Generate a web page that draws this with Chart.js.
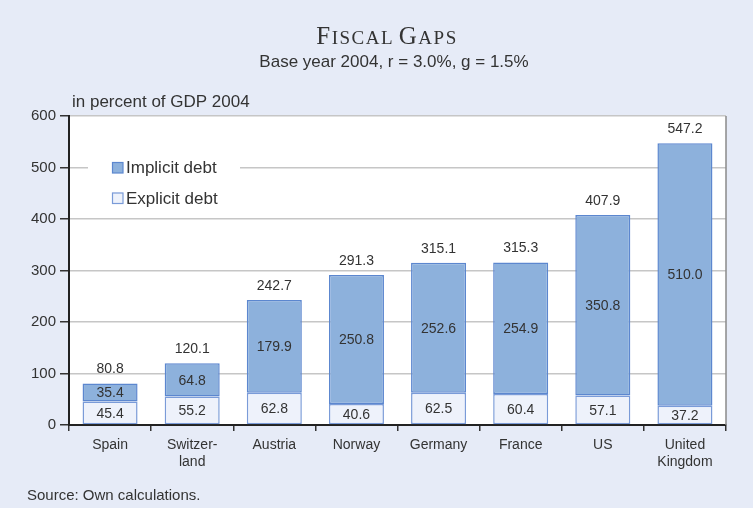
<!DOCTYPE html>
<html lang="en">
<head>
<meta charset="UTF-8">
<script src="https://cdn.jsdelivr.net/npm/chart.js"></script>
<title>Fiscal Gaps</title>
<style>
  html, body { margin: 0; padding: 0; background: #e6ebf7; }
  #wrap { width: 753px; height: 508px; position: relative; }
</style>
</head>
<body>
<div id="wrap"><canvas id="grafico" width="753" height="508"></canvas></div>
<script>
const paises = ["Spain", ["Switzer-", "land"], "Austria", "Norway", "Germany", "France", "US", ["United", "Kingdom"]]
const explicita = [45.4, 55.2, 62.8, 40.6, 62.5, 60.4, 57.1, 37.2]
const implicita = [35.4, 64.8, 179.9, 250.8, 252.6, 254.9, 350.8, 510.0]
const totais = [80.8, 120.1, 242.7, 291.3, 315.1, 315.3, 407.9, 547.2]
const yTicks = [0, 100, 200, 300, 400, 500, 600]

const corTexto = '#333333'
const fonte = '"Liberation Sans", Arial, sans-serif'

// titulo, rotulos e legenda desenhados a mao
const extras = {
  id: 'extras',
  beforeDraw(chart) {
    const c = chart.ctx
    c.save()
    c.fillStyle = '#e6ebf7'
    c.fillRect(0, 0, chart.width, chart.height)
    const a = chart.chartArea
    c.fillStyle = '#ffffff'
    c.fillRect(a.left, a.top, a.right - a.left, a.bottom - a.top)
    // titulo em versalete
    const partes = [['F', 25], ['ISCAL ', 19], ['G', 25], ['APS', 19]]
    let w = 0
    partes.forEach(p => { c.font = p[1] + 'px "Liberation Serif", serif'; w += c.measureText(p[0]).width + 1.5 * p[0].trim().length })
    let x = 387 - w / 2
    c.fillStyle = '#333333'
    c.textBaseline = 'alphabetic'
    partes.forEach(p => {
      c.font = p[1] + 'px "Liberation Serif", serif'
      for (const ch of p[0]) {
        c.fillText(ch, x, 44)
        x += c.measureText(ch).width + (ch === ' ' ? 0 : 1.5)
      }
    })
    c.font = '17px ' + fonte
    c.textAlign = 'center'
    c.fillText('Base year 2004, r = 3.0%, g = 1.5%', 394, 67)
    c.textAlign = 'left'
    c.fillText('in percent of GDP 2004', 72, 107)
    c.font = '15px ' + fonte
    c.fillText('Source: Own calculations.', 27, 500)
    c.restore()
  },
  afterDatasetsDraw(chart) {
    const c = chart.ctx
    const a = chart.chartArea
    c.save()
    // borda direita
    c.strokeStyle = '#8a8a8a'
    c.lineWidth = 1.5
    c.beginPath()
    c.moveTo(a.right, a.top)
    c.lineTo(a.right, a.bottom)
    c.stroke()
    // legenda
    c.fillStyle = '#ffffff'
    c.fillRect(88, 150, 152, 64)
    const itens = [[chart.data.datasets[1], 167.5], [chart.data.datasets[0], 198]]
    c.font = '17px ' + fonte
    c.textBaseline = 'middle'
    itens.forEach(([ds, y]) => {
      c.fillStyle = ds.backgroundColor
      c.fillRect(112, y - 5.5, 11, 11)
      c.strokeStyle = ds.borderColor
      c.lineWidth = 1.2
      c.strokeRect(112.5, y - 5, 10.5, 10.5)
      c.fillStyle = corTexto
      c.textAlign = 'left'
      c.fillText(ds.label, 126, y + 1)
    })
    // valores nas barras
    c.font = '14px ' + fonte
    c.textAlign = 'center'
    chart.data.datasets.forEach((ds, i) => {
      chart.getDatasetMeta(i).data.forEach((bar, j) => {
        const yc = (bar.y + bar.base) / 2
        c.fillText(ds.data[j].toFixed(1), bar.x, yc + 1)
      })
    })
    const topo = chart.getDatasetMeta(1).data
    topo.forEach((bar, j) => {
      c.fillText(totais[j].toFixed(1), bar.x, bar.y - 14)
    })
    c.restore()
  }
}

const grafico = new Chart(document.getElementById('grafico'), {
  type: 'bar',
  data: {
    labels: paises,
    datasets: [
      {
        label: 'Explicit debt',
        data: explicita,
        backgroundColor: '#eef2fb',
        borderColor: '#7a9bd8',
        borderWidth: 1.5,
        borderSkipped: false,
        barPercentage: 0.67,
        categoryPercentage: 1
      },
      {
        label: 'Implicit debt',
        data: implicita,
        backgroundColor: '#8db1dc',
        borderColor: '#5c87cf',
        borderWidth: 1.5,
        borderSkipped: false,
        barPercentage: 0.67,
        categoryPercentage: 1
      }
    ]
  },
  options: {
    responsive: false,
    animation: false,
    devicePixelRatio: 1,
    layout: { padding: { left: 0, right: 27, top: 116, bottom: 0 } },
    plugins: {
      legend: { display: false },
      tooltip: { enabled: false }
    },
    scales: {
      x: {
        stacked: true,
        grid: {
          offset: true,
          drawOnChartArea: false,
          drawTicks: true,
          tickLength: 6,
          color: '#333333',
          lineWidth: 1.5
        },
        border: { color: '#222222', width: 2 },
        ticks: { color: corTexto, font: { family: fonte, size: 14 }, padding: 6, maxRotation: 0, autoSkip: false },
        afterFit: s => { s.height = 83 }
      },
      y: {
        stacked: true,
        min: 0,
        max: 600,
        afterBuildTicks: s => { s.ticks = yTicks.map(v => ({ value: v })) },
        grid: {
          color: '#c6c6c6',
          lineWidth: 1.5,
          tickLength: 9,
          tickColor: '#333333',
          tickWidth: 1.5
        },
        border: { color: '#222222', width: 2 },
        ticks: { color: corTexto, font: { family: fonte, size: 15 }, padding: 4 },
        afterFit: s => { s.width = 69 }
      }
    }
  },
  plugins: [extras]
})
</script>
</body>
</html>
